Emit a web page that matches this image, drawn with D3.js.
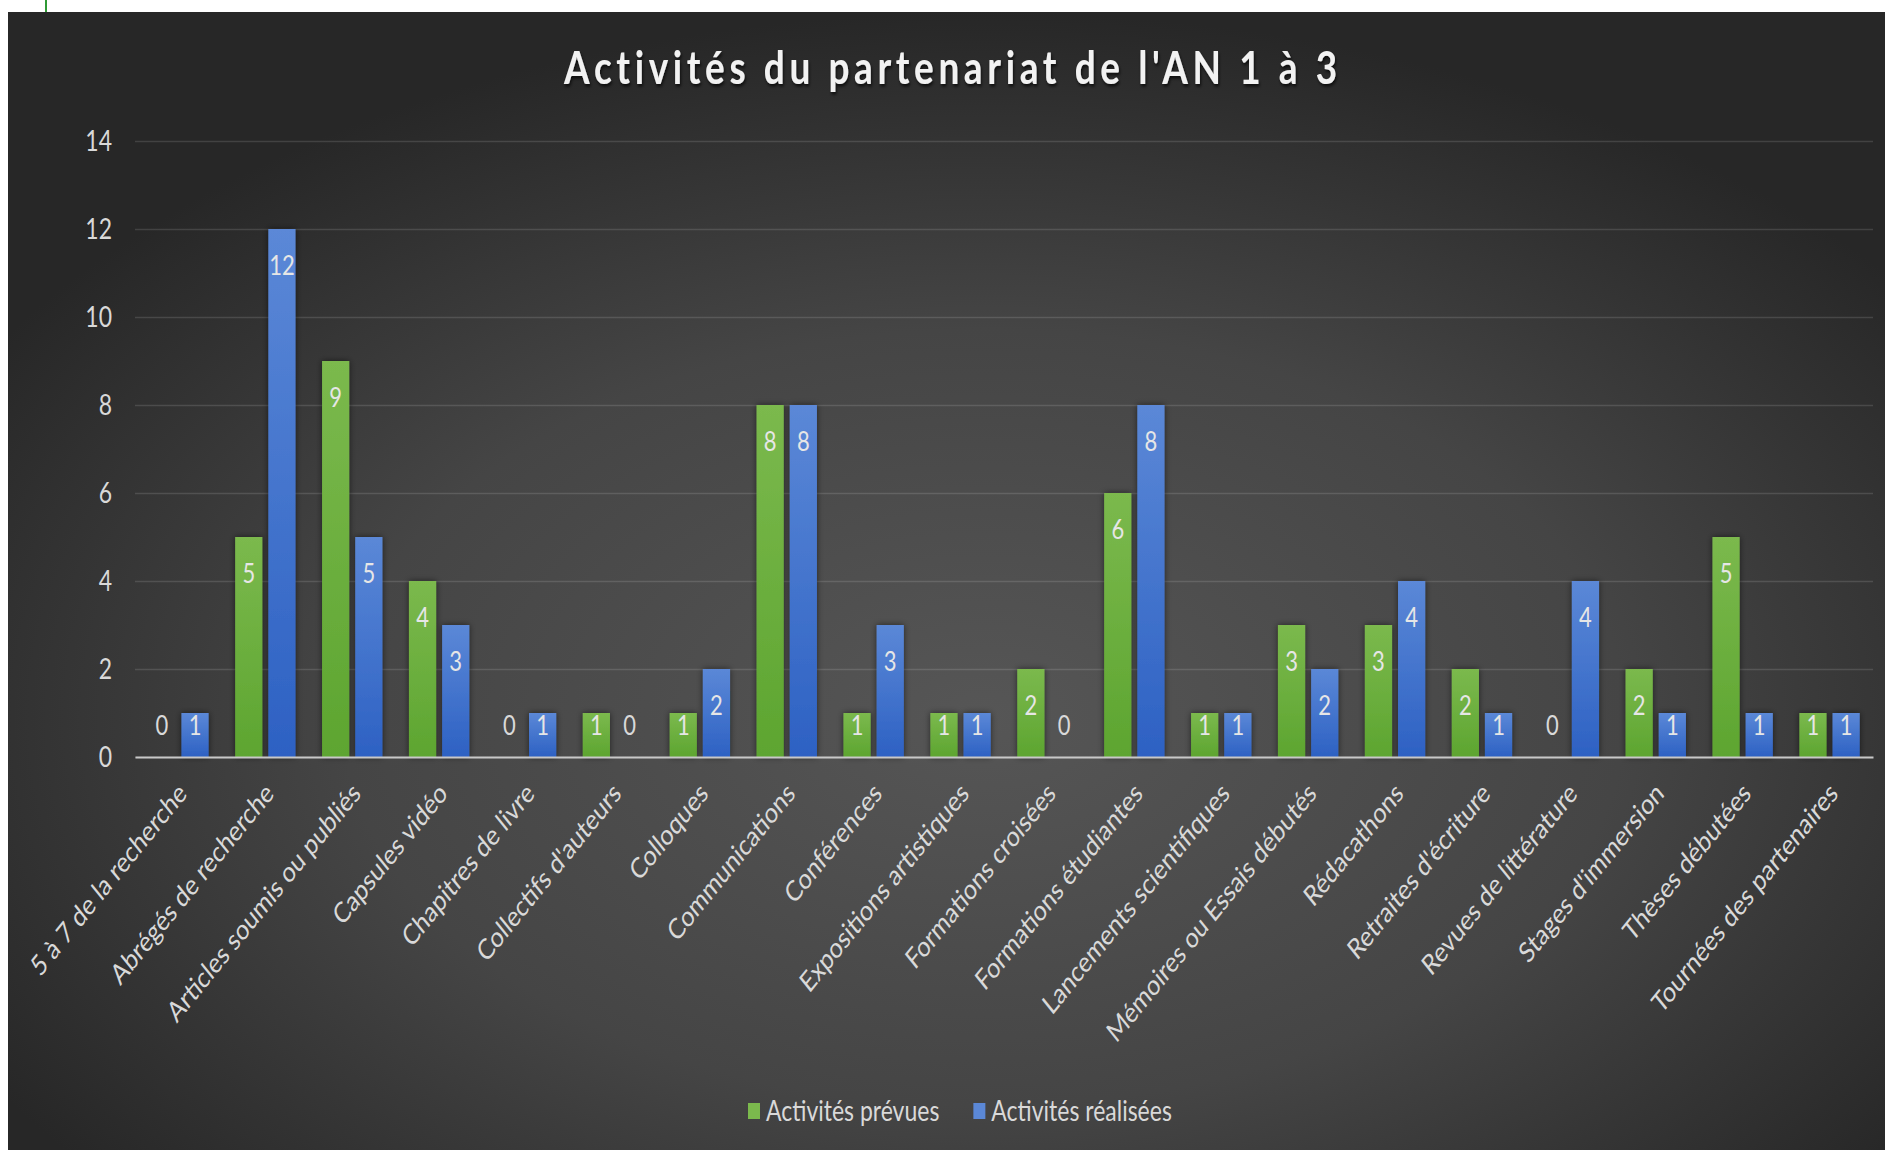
<!DOCTYPE html>
<html>
<head>
<meta charset="utf-8">
<script src="https://cdn.jsdelivr.net/npm/d3@7"></script>
<style>
  body { margin: 0; background: #ffffff; }
  text { font-family: Lato, "Open Sans", sans-serif; }
</style>
</head>
<body>
<div id="grafico"></div>
<script>
// Donnees du graphique
const categories = [
  "5 à 7 de la recherche", "Abrégés de recherche", "Articles soumis ou publiés",
  "Capsules vidéo", "Chapitres de livre", "Collectifs d'auteurs", "Colloques",
  "Communications", "Conférences", "Expositions artistiques", "Formations croisées",
  "Formations étudiantes", "Lancements scientifiques", "Mémoires ou Essais débutés",
  "Rédacathons", "Retraites d'écriture", "Revues de littérature", "Stages d'immersion",
  "Thèses débutées", "Tournées des partenaires"
];
const prevues   = [0, 5, 9, 4, 0, 1, 1, 8, 1, 1, 2, 6, 1, 3, 3, 2, 0, 2, 5, 1];
const realisees = [1, 12, 5, 3, 1, 0, 2, 8, 3, 1, 0, 8, 1, 2, 4, 1, 4, 1, 1, 1];
const series = ["Activités prévues", "Activités réalisées"];
const yTicks = [0, 2, 4, 6, 8, 10, 12, 14];
const titre = "Activités du partenariat de l'AN 1 à 3";

const width = 1885;
const height = 1150;
// l'image d'origine est etiree verticalement, on reproduit sur les textes
const stretch = 1.235;

const svg = d3.select('#grafico')
  .append('svg')
  .attr('width', width)
  .attr('height', height);

const defs = svg.append('defs');

const bg = defs.append('radialGradient')
  .attr('id', 'fond')
  .attr('cx', '52%').attr('cy', '62%').attr('r', '62%');
bg.append('stop').attr('offset', '0%').attr('stop-color', '#565656');
bg.append('stop').attr('offset', '55%').attr('stop-color', '#454545');
bg.append('stop').attr('offset', '100%').attr('stop-color', '#272727');

const couleurs = {
  "Activités prévues": ['#7bb94d', '#5da530'],
  "Activités réalisées": ['#5b88d7', '#2d61c3']
};
series.forEach((s, i) => {
  const g = defs.append('linearGradient')
    .attr('id', 'barre' + i)
    .attr('x1', 0).attr('y1', 0).attr('x2', 0).attr('y2', 1);
  g.append('stop').attr('offset', '0%').attr('stop-color', couleurs[s][0]);
  g.append('stop').attr('offset', '100%').attr('stop-color', couleurs[s][1]);
});

const ombre = defs.append('filter').attr('id', 'ombre')
  .attr('x', '-50%').attr('y', '-20%').attr('width', '200%').attr('height', '140%');
ombre.append('feDropShadow')
  .attr('dx', 0).attr('dy', 0).attr('stdDeviation', 3)
  .attr('flood-color', '#000').attr('flood-opacity', 0.55);

const ombreTitre = defs.append('filter').attr('id', 'ombreTitre');
ombreTitre.append('feDropShadow')
  .attr('dx', 1).attr('dy', 2).attr('stdDeviation', 1.5)
  .attr('flood-color', '#000').attr('flood-opacity', 0.7);

// fond du graphique
svg.append('rect')
  .attr('x', 8).attr('y', 12)
  .attr('width', width - 8).attr('height', height - 12)
  .attr('fill', 'url(#fond)');

// petit trait vert en haut a gauche
svg.append('rect')
  .attr('x', 45).attr('y', 0).attr('width', 2).attr('height', 12)
  .attr('fill', '#2f9a35');

// titre
svg.append('text')
  .attr('transform', `translate(953, 84) scale(1, ${stretch})`)
  .attr('text-anchor', 'middle')
  .attr('font-size', 37)
  .attr('font-weight', 'bold')
  .attr('letter-spacing', 4.6)
  .attr('fill', '#f2f2f2')
  .attr('filter', 'url(#ombreTitre)')
  .text(titre);

// echelles
const x0 = d3.scaleBand()
  .domain(categories)
  .range([135, 1873]);

const x1 = d3.scaleBand()
  .domain(series)
  .range([0, x0.bandwidth()])
  .paddingInner(0.18)
  .paddingOuter(0.4);

const y = d3.scaleLinear()
  .domain([0, 14])
  .range([757, 141]);

// axe Y + lignes de grille
const axisY = d3.axisLeft(y)
  .tickValues(yTicks)
  .tickSize(-(1873 - 135))
  .tickPadding(23);

const gy = svg.append('g')
  .attr('transform', 'translate(135, 0)')
  .call(axisY);
gy.select('.domain').remove();
gy.selectAll('.tick line')
  .attr('stroke', '#ffffff')
  .attr('stroke-opacity', 0.13)
  .attr('stroke-width', 1.5);
gy.selectAll('.tick text')
  .attr('fill', '#d9d9d9')
  .attr('font-size', 23)
  .attr('transform', `scale(1, ${stretch})`);

// donnees par categorie
const data = categories.map((c, i) => ({
  categorie: c,
  valeurs: [
    { serie: series[0], valeur: prevues[i], idx: 0 },
    { serie: series[1], valeur: realisees[i], idx: 1 }
  ]
}));

const groupes = svg.selectAll('.groupe')
  .data(data)
  .enter()
  .append('g')
  .attr('class', 'groupe')
  .attr('transform', d => `translate(${x0(d.categorie)}, 0)`);

groupes.selectAll('rect')
  .data(d => d.valeurs.filter(v => v.valeur > 0))
  .enter()
  .append('rect')
  .attr('x', d => x1(d.serie))
  .attr('y', d => y(d.valeur))
  .attr('width', x1.bandwidth())
  .attr('height', d => y(0) - y(d.valeur))
  .attr('fill', d => `url(#barre${d.idx})`)
  .attr('filter', 'url(#ombre)');

// etiquettes de donnees (interieur, extremite)
groupes.selectAll('.etiquette')
  .data(d => d.valeurs)
  .enter()
  .append('text')
  .attr('class', 'etiquette')
  .attr('transform', d => {
    const cx = x1(d.serie) + x1.bandwidth() / 2;
    const cy = Math.min(y(d.valeur) + 36, y(0) - 32);
    return `translate(${cx}, ${cy}) scale(1, ${stretch})`;
  })
  .attr('text-anchor', 'middle')
  .attr('dy', '0.35em')
  .attr('font-size', 22)
  .attr('fill', d => d.valeur === 0 ? '#d9d9d9' : '#e6e6e6')
  .text(d => d.valeur);

// axe X
const axisX = d3.axisBottom(x0).tickSize(0).tickPadding(0);
const gx = svg.append('g')
  .attr('transform', `translate(0, ${y(0)})`)
  .call(axisX);
gx.select('.domain')
  .attr('stroke', '#c8c8c8')
  .attr('stroke-width', 2);
gx.selectAll('.tick text')
  .attr('fill', '#d9d9d9')
  .attr('font-size', 23)
  .attr('text-anchor', 'end')
  .attr('y', 0)
  .attr('dy', '0.35em')
  .attr('transform', `translate(4, 31) scale(1, ${stretch}) rotate(-45)`);

// legende
const legende = svg.append('g').attr('transform', 'translate(748, 1111)');
let posX = 0;
series.forEach((s, i) => {
  const item = legende.append('g').attr('transform', `translate(${posX}, 0)`);
  item.append('rect')
    .attr('x', 0).attr('y', -8)
    .attr('width', 12).attr('height', 16)
    .attr('fill', couleurs[s][0]);
  const t = item.append('text')
    .attr('x', 18)
    .attr('dy', '0.35em')
    .attr('transform', `scale(1, ${stretch})`)
    .attr('font-size', 23)
    .attr('fill', '#d9d9d9')
    .text(s);
  posX += 18 + t.node().getComputedTextLength() + 34;
});
</script>
</body>
</html>
